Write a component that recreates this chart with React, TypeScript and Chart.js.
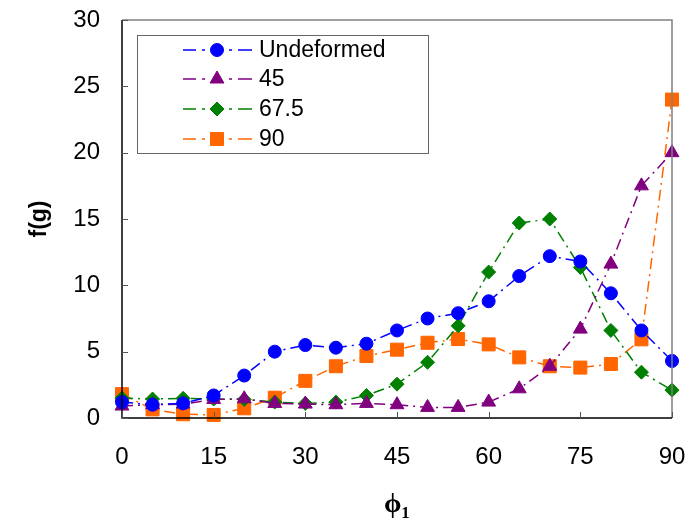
import React, { useEffect, useRef } from "react";
import { Chart, registerables } from "chart.js";
import { drawPoint } from "chart.js/helpers";

Chart.register(...registerables);

const phi1 = [0, 5, 10, 15, 20, 25, 30, 35, 40, 45, 50, 55, 60, 65, 70, 75, 80, 85, 90];
const undeformed = [1.2, 1.0, 1.1, 1.7, 3.2, 5.0, 5.5, 5.3, 5.6, 6.6, 7.5, 7.9, 8.8, 10.7, 12.2, 11.8, 9.4, 6.6, 4.3];
const deg45 = [0.9, 1.0, 1.05, 1.4, 1.45, 1.1, 1.05, 1.0, 1.1, 1.0, 0.8, 0.8, 1.2, 2.2, 3.9, 6.7, 11.6, 17.5, 20.0];
const deg675 = [1.5, 1.43, 1.48, 1.43, 1.4, 1.2, 1.1, 1.2, 1.7, 2.55, 4.2, 6.95, 11.0, 14.7, 15.0, 11.35, 6.6, 3.45, 2.1];
const deg90 = [1.8, 0.65, 0.28, 0.23, 0.73, 1.53, 2.8, 3.9, 4.67, 5.15, 5.67, 5.95, 5.55, 4.57, 3.9, 3.8, 4.07, 5.93, 24.0];

const seriesNames = ["Undeformed", "45", "67.5", "90"];
const seriesValues = [undeformed, deg45, deg675, deg90];
const seriesColors = ["#0000FF", "#800080", "#008000", "#FF6600"];
const seriesShapes = ["circle", "triangle", "rectRot", "rect"];
const seriesRadius = [6.5, 8, 7, 9.2];

const xTicks = [0, 15, 30, 45, 60, 75, 90];
const yTicks = [0, 5, 10, 15, 20, 25, 30];

const FONT = "'Liberation Sans', Arial, sans-serif";

const framePlugin = {
  id: "frameAndLegend",
  afterDatasetsDraw(chart: any) {
    const { ctx, chartArea, scales } = chart;
    const { left, right, top, bottom } = chartArea;
    ctx.save();
    ctx.strokeStyle = "#808080";
    ctx.lineWidth = 1.5;
    ctx.beginPath();
    ctx.moveTo(left, top);
    ctx.lineTo(right, top);
    ctx.lineTo(right, bottom);
    ctx.stroke();
    ctx.strokeStyle = "#000";
    ctx.lineWidth = 1.5;
    ctx.beginPath();
    ctx.moveTo(left, top);
    ctx.lineTo(left, bottom);
    ctx.lineTo(right, bottom);
    ctx.stroke();
    ctx.lineWidth = 1;
    ctx.strokeStyle = "#555";
    ctx.beginPath();
    for (const v of yTicks) {
      const y = Math.round(scales.y.getPixelForValue(v)) + 0.5;
      ctx.moveTo(left, y);
      ctx.lineTo(left + 6, y);
    }
    for (const v of xTicks) {
      const x = Math.round(scales.x.getPixelForValue(v)) + 0.5;
      ctx.moveTo(x, bottom);
      ctx.lineTo(x, bottom - 6);
    }
    ctx.stroke();

    const bx = 137, by = 35, bw = 291, bh = 118;
    ctx.fillStyle = "#fff";
    ctx.fillRect(bx, by, bw, bh);
    ctx.strokeStyle = "#666";
    ctx.lineWidth = 1;
    ctx.strokeRect(bx + 0.5, by + 0.5, bw, bh);
    const rows = [50, 79, 109, 139];
    chart.data.datasets.forEach((ds: any, i: number) => {
      const y = rows[i];
      ctx.strokeStyle = ds.borderColor;
      ctx.lineWidth = 1.5;
      ctx.setLineDash([]);
      ctx.beginPath();
      ctx.moveTo(183, y); ctx.lineTo(196, y);
      ctx.moveTo(202, y); ctx.lineTo(205, y);
      ctx.moveTo(229, y); ctx.lineTo(232, y);
      ctx.moveTo(238, y); ctx.lineTo(252, y);
      ctx.stroke();
      ctx.fillStyle = ds.pointBackgroundColor;
      ctx.strokeStyle = ds.pointBorderColor;
      ctx.lineWidth = 1;
      drawPoint(ctx, { pointStyle: ds.pointStyle, radius: ds.pointRadius, rotation: 0, borderWidth: 1 }, 217, y);
      ctx.fillStyle = "#000";
      ctx.font = `23px ${FONT}`;
      ctx.textBaseline = "middle";
      ctx.textAlign = "left";
      ctx.fillText(ds.label, 259, y + 1);
    });
    ctx.restore();
  },
};

export default function App() {
  const ref = useRef<HTMLCanvasElement | null>(null);
  useEffect(() => {
    if (!ref.current) return;
    const datasets = seriesNames.map((name, i) => ({
      label: name,
      data: phi1.map((x, j) => ({ x, y: seriesValues[i][j] })),
      borderColor: seriesColors[i],
      backgroundColor: seriesColors[i],
      pointBackgroundColor: seriesColors[i],
      pointBorderColor: seriesColors[i],
      pointStyle: seriesShapes[i],
      pointRadius: seriesRadius[i],
      pointBorderWidth: 1,
      borderWidth: 1.5,
      borderDash: [11, 5, 2, 5],
      fill: false,
      tension: 0,
      clip: false as any,
    }));
    const chart = new Chart(ref.current, {
      type: "line",
      data: { datasets },
      options: {
        responsive: false,
        animation: false,
        devicePixelRatio: 1,
        layout: { padding: { top: 20, right: 18, left: 0, bottom: 0 } },
        plugins: { legend: { display: false }, tooltip: { enabled: false } },
        scales: {
          x: {
            type: "linear",
            min: 0,
            max: 90,
            afterFit: (s: any) => { s.height = 111; s.paddingLeft = 0; s.paddingRight = 0; },
            afterBuildTicks: (s: any) => { s.ticks = xTicks.map((v) => ({ value: v })); },
            grid: { display: false, drawTicks: false },
            border: { display: false },
            ticks: { color: "#000", font: { family: FONT, size: 24 }, padding: 25, maxRotation: 0 },
            title: {
              display: true,
              text: "ϕ₁",
              color: "#000",
              font: { family: "'Liberation Serif', 'Times New Roman', serif", size: 28, weight: "bold" },
              padding: { top: 0, bottom: 7 },
            },
          },
          y: {
            type: "linear",
            min: 0,
            max: 30,
            afterFit: (s: any) => { s.width = 122; s.paddingTop = 0; s.paddingBottom = 0; },
            afterBuildTicks: (s: any) => { s.ticks = yTicks.map((v) => ({ value: v })); },
            grid: { display: false, drawTicks: false },
            border: { display: false },
            ticks: { color: "#000", font: { family: FONT, size: 24 }, padding: 22 },
            title: {
              display: true,
              text: "f(g)",
              color: "#000",
              font: { family: FONT, size: 23, weight: "bold" },
              padding: { top: 26, bottom: 0 },
            },
          },
        },
      },
      plugins: [framePlugin],
    });
    return () => chart.destroy();
  }, []);
  return (
    <div style={{ position: "absolute", left: 0, top: 0, width: 690, height: 529, background: "#fff" }}>
      <canvas ref={ref} width={690} height={529} />
    </div>
  );
}
